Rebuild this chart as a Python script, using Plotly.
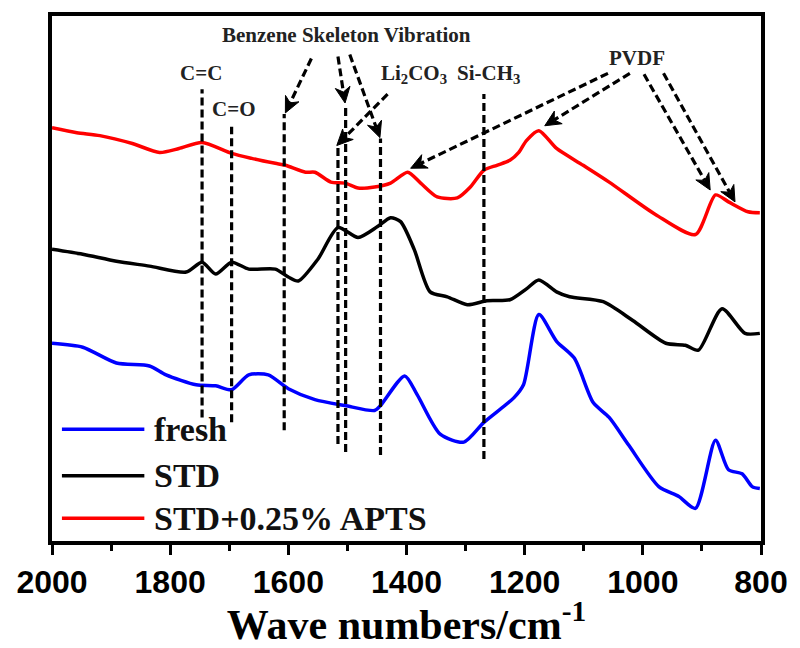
import math
import plotly.graph_objects as go

# ---------------- data ----------------
wn_red = [2000, 1958, 1919, 1864, 1818, 1785, 1746, 1696, 1662, 1622, 1605, 1571, 1555, 1528,
          1504, 1482, 1454, 1427, 1398, 1376, 1348, 1314, 1292, 1269, 1247, 1225, 1210, 1197,
          1176, 1146, 1101, 1057, 978, 911, 877, 855, 822, 802]
int_red = [4.18, 4.13, 4.10, 4.02, 3.93, 3.97, 4.03, 3.92, 3.87, 3.82, 3.80, 3.73, 3.73, 3.63,
           3.62, 3.57, 3.58, 3.62, 3.73, 3.62, 3.48, 3.47, 3.58, 3.75, 3.80, 3.85, 3.93, 4.05,
           4.15, 3.97, 3.80, 3.63, 3.30, 3.10, 3.50, 3.43, 3.33, 3.32]

wn_std = [2000, 1948, 1891, 1835, 1773, 1746, 1723, 1696, 1667, 1622, 1600, 1583, 1550, 1516,
          1482, 1449, 1427, 1410, 1387, 1360, 1331, 1297, 1264, 1225, 1197, 1176, 1146, 1124,
          1067, 1017, 961, 928, 906, 866, 827, 802]
int_std = [2.95, 2.90, 2.83, 2.78, 2.72, 2.82, 2.70, 2.82, 2.75, 2.75, 2.67, 2.63, 2.85, 3.17,
           3.07, 3.18, 3.27, 3.23, 2.95, 2.52, 2.47, 2.39, 2.43, 2.44, 2.55, 2.64, 2.52, 2.47,
           2.42, 2.23, 2.00, 1.98, 1.93, 2.35, 2.10, 2.10]

wn_fresh = [2000, 1948, 1891, 1835, 1807, 1756, 1723, 1696, 1667, 1634, 1600, 1555, 1504, 1454,
            1444, 1403, 1382, 1343, 1303, 1269, 1218, 1202, 1176, 1146, 1116, 1084, 1057, 1024,
            973, 939, 911, 877, 855, 832, 815, 802]
int_fresh = [2.00, 1.96, 1.80, 1.77, 1.68, 1.58, 1.57, 1.53, 1.68, 1.68, 1.54, 1.43, 1.37, 1.32,
             1.37, 1.67, 1.48, 1.08, 1.00, 1.20, 1.45, 1.58, 2.29, 2.02, 1.85, 1.40, 1.25, 0.97,
             0.55, 0.45, 0.33, 1.02, 0.72, 0.68, 0.55, 0.53]

series_names = ["fresh", "STD", "STD+0.25% APTS"]
series_colors = ["#0000FF", "#000000", "#FF0000"]

# marker lines (wavenumber, top, bottom)
vline_wn = [1746, 1696, 1607, 1516, 1503, 1444, 1269]
vline_top = [4.57, 4.19, 4.32, 3.98, 4.40, 4.07, 4.52]
vline_bot = [1.25, 1.20, 1.12, 0.98, 0.90, 0.87, 0.83]

# arrows: (tail_wn, tail_y, tip_wn, tip_y)
arrows = [
    (1561, 4.88, 1605, 4.33),
    (1516, 4.90, 1504, 4.43),
    (1496, 4.92, 1445, 4.08),
    (1432, 4.52, 1518, 4.00),
    (1059, 4.73, 1393, 3.77),
    (1022, 4.73, 1166, 4.20),
    (998, 4.72, 886, 3.55),
    (965, 4.73, 844, 3.43),
]

# labels: (text, wn, y)
labels = [
    ("Benzene Skeleton Vibration", 1501, 5.12),
    ("C=C", 1748, 4.73),
    ("C=O", 1692, 4.37),
    ("Li<sub>2</sub>CO<sub>3</sub>", 1388, 4.72),
    ("Si-CH<sub>3</sub>", 1262, 4.72),
    ("PVDF", 1010, 4.89),
]

X_RANGE = [2000, 800]
Y_RANGE = [0, 5.31]

# ---------------- figure ----------------
W, H = 800, 648
ML, MR, MT, MB = 52, 34, 14, 103
PW, PH = W - ML - MR, H - MT - MB
px_per_wn = PW / abs(X_RANGE[0] - X_RANGE[1])
px_per_y = PH / (Y_RANGE[1] - Y_RANGE[0])

serif = "Times New Roman, Liberation Serif, serif"
sans = "Arial, Liberation Sans, sans-serif"

fig = go.Figure()
for wn, it, name, col in [(wn_fresh, int_fresh, series_names[0], series_colors[0]),
                          (wn_std, int_std, series_names[1], series_colors[1]),
                          (wn_red, int_red, series_names[2], series_colors[2])]:
    fig.add_trace(go.Scatter(x=wn, y=it, mode="lines", name=name,
                             line=dict(color=col, width=3.5, shape="spline", smoothing=0.7),
                             showlegend=False))

shapes = []
dash_style = "8px,4px"
for xw, yt, yb in zip(vline_wn, vline_top, vline_bot):
    shapes.append(dict(type="line", xref="x", yref="y", x0=xw, x1=xw, y0=yb, y1=yt,
                       line=dict(color="black", width=3.2, dash=dash_style)))

HEAD_L, HEAD_W = 16, 7.5


def px_to_data(dx_px, dy_px):
    # screen offset (x right, y down) -> data offset
    return -dx_px / px_per_wn, -dy_px / px_per_y


for (tw, ty, hw, hy) in arrows:
    # direction tail -> tip in screen pixels
    dx = -(hw - tw) * px_per_wn
    dy = -(hy - ty) * px_per_y
    L = math.hypot(dx, dy)
    ux, uy = dx / L, dy / L
    # base centre of the head
    bx, by = px_to_data(-ux * HEAD_L, -uy * HEAD_L)
    shapes.append(dict(type="line", xref="x", yref="y", x0=tw, y0=ty,
                       x1=hw + bx * 0.7, y1=hy + by * 0.7,
                       line=dict(color="black", width=3.2, dash=dash_style)))
    # perpendicular
    px_, py_ = -uy, ux
    l1 = px_to_data(-ux * HEAD_L + px_ * HEAD_W, -uy * HEAD_L + py_ * HEAD_W)
    l2 = px_to_data(-ux * HEAD_L - px_ * HEAD_W, -uy * HEAD_L - py_ * HEAD_W)
    notch = px_to_data(-ux * HEAD_L * 0.7, -uy * HEAD_L * 0.7)
    path = (f"M{hw},{hy} L{hw + l1[0]},{hy + l1[1]} L{hw + notch[0]},{hy + notch[1]} "
            f"L{hw + l2[0]},{hy + l2[1]} Z")
    shapes.append(dict(type="path", xref="x", yref="y", path=path,
                       fillcolor="black", line=dict(color="black", width=1)))

annotations = []
for txt, xw, yv in labels:
    annotations.append(dict(x=xw, y=yv, xref="x", yref="y", text=txt, showarrow=False,
                            font=dict(family=serif, size=21, color="#222222", weight="bold"),
                            xanchor="center", yanchor="middle"))

# manual legend (long line samples as in the original)
leg_y_px = [432, 479, 522]
for name, col, ypx in zip(series_names, series_colors, leg_y_px):
    yp = (H - MB - ypx) / PH
    shapes.append(dict(type="line", xref="paper", yref="paper",
                       x0=(62 - ML) / PW, x1=(145 - ML) / PW, y0=yp, y1=yp,
                       line=dict(color=col, width=3.5)))
    annotations.append(dict(x=(153 - ML) / PW, y=yp, xref="paper", yref="paper", text=name,
                            showarrow=False, xanchor="left", yanchor="middle",
                            font=dict(family=serif, size=34, color="#111111", weight="bold")))

fig.update_layout(
    width=W, height=H,
    margin=dict(l=ML, r=MR, t=MT, b=MB),
    paper_bgcolor="white", plot_bgcolor="white",
    shapes=shapes, annotations=annotations,
    showlegend=False,
)
fig.update_xaxes(
    range=X_RANGE, showgrid=False, zeroline=False,
    showline=True, linecolor="black", linewidth=3.5, mirror=True,
    ticks="outside", ticklen=10, tickwidth=3, tickcolor="black",
    tickvals=[2000, 1800, 1600, 1400, 1200, 1000, 800],
    minor=dict(tickvals=[1900, 1700, 1500, 1300, 1100, 900], ticks="outside",
               ticklen=6, tickwidth=3, tickcolor="black"),
    tickfont=dict(family=sans, size=32, color="black", weight="bold"),
    title=dict(text="Wave numbers/cm<sup>-1</sup>", standoff=6,
               font=dict(family=serif, size=42, color="black", weight="bold")),
)
fig.update_yaxes(
    range=Y_RANGE, showgrid=False, zeroline=False, showticklabels=False, ticks="",
    showline=True, linecolor="black", linewidth=3.5, mirror=True,
)

fig.write_html("out.html")
